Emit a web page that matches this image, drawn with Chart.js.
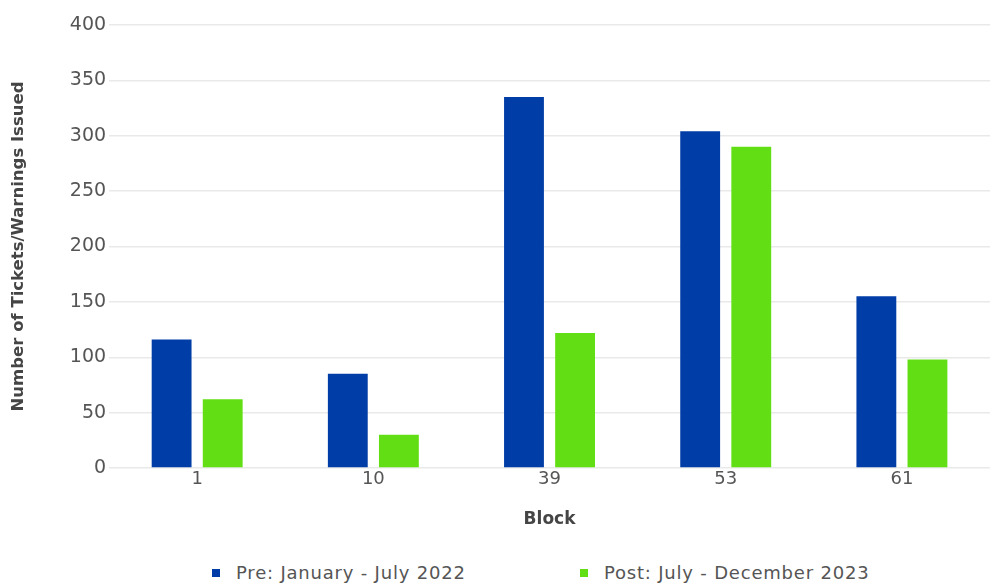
<!DOCTYPE html>
<html>
<head>
<meta charset="utf-8">
<script src="https://cdn.jsdelivr.net/npm/chart.js@4.4.1/dist/chart.umd.min.js"></script>
<style>
    html, body { margin: 0; padding: 0; background: #fff; }
    #wrap { width: 992px; height: 583px; position: relative; overflow: hidden; }
    #chartBox { position: absolute; left: 0; top: 0; width: 992px; height: 540px; }
    #legenda {
        position: absolute; left: 0; top: 562px; width: 992px; height: 22px;
        font-family: "DejaVu Sans", sans-serif; font-size: 18px; color: #555; letter-spacing: 0.8px;
    }
    .leg-item { position: absolute; top: 0; white-space: nowrap; line-height: 22px; }
    .leg-box { display: inline-block; width: 8px; height: 8px; margin-right: 16px; vertical-align: 2px; }
</style>
</head>
<body>
<div id="wrap">
    <div id="chartBox"><canvas id="chartBlocos"></canvas></div>
    <div id="legenda"></div>
</div>
<script>
const blocks = ['1', '10', '39', '53', '61'];
const preValues = [116, 85, 335, 304, 155];
const postValues = [62, 30, 122, 290, 98];
const preLabel = 'Pre: January - July 2022';
const postLabel = 'Post: July - December 2023';

const BLUE = '#003da6';
const GREEN = '#62df14';
const TEXT_COLOR = '#555555';
const TITLE_COLOR = '#454545';
const GRID_COLOR = '#e9e9e9';
const FONT = '"DejaVu Sans", "Noto Sans", sans-serif';

const datasets = [
    { label: preLabel, data: preValues, backgroundColor: BLUE, borderWidth: 0 },
    { label: postLabel, data: postValues, backgroundColor: GREEN, borderWidth: 0 }
];

// legenda em HTML, abaixo do canvas
const legendaX = [212, 580];
const legenda = document.getElementById('legenda');
datasets.forEach((ds, i) => {
    const item = document.createElement('div');
    item.className = 'leg-item';
    item.style.left = legendaX[i] + 'px';
    item.innerHTML = `<span class="leg-box" style="background:${ds.backgroundColor}"></span>${ds.label}`;
    legenda.appendChild(item);
});

const ctx = document.getElementById('chartBlocos').getContext('2d');
new Chart(ctx, {
    type: 'bar',
    data: { labels: blocks, datasets },
    options: {
        responsive: true,
        maintainAspectRatio: false,
        animation: false,
        barPercentage: 0.78,
        categoryPercentage: 0.58,
        layout: { padding: { left: 9, right: 2, top: 25, bottom: 0 } },
        plugins: {
            legend: { display: false },
            tooltip: { enabled: false }
        },
        scales: {
            x: {
                grid: { display: false, drawTicks: false },
                border: { display: false },
                ticks: { color: TEXT_COLOR, font: { family: FONT, size: 18 }, padding: 1 },
                title: {
                    display: true,
                    text: 'Block',
                    color: TITLE_COLOR,
                    font: { family: FONT, size: 17, weight: 'bold' },
                    padding: { top: 18, bottom: 10 }
                }
            },
            y: {
                min: 0,
                max: 400,
                grid: { color: GRID_COLOR, drawTicks: false, lineWidth: 1.5 },
                border: { display: false },
                ticks: { stepSize: 50, color: TEXT_COLOR, font: { family: FONT, size: 19 }, padding: 3 },
                title: {
                    display: true,
                    text: 'Number of Tickets/Warnings Issued',
                    color: TITLE_COLOR,
                    font: { family: FONT, size: 16.5, weight: 'bold' },
                    padding: { top: 0, bottom: 38 }
                }
            }
        }
    }
});
</script>
</body>
</html>
